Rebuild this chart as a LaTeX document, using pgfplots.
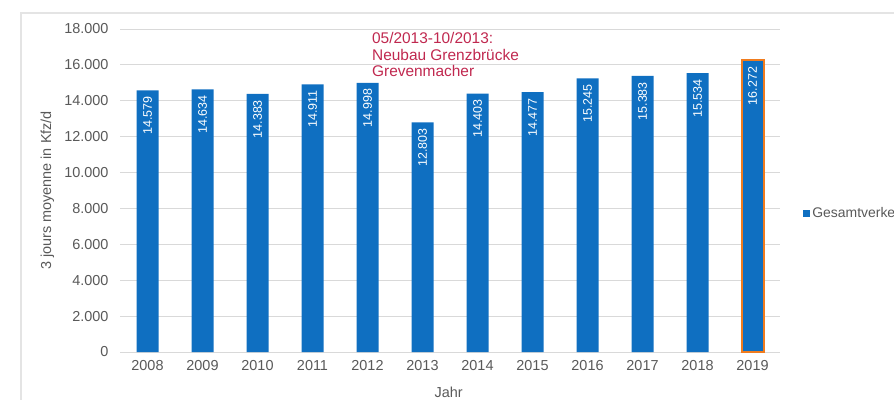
\documentclass[border=0pt]{standalone}
\usepackage{pgfplots}
\pgfplotsset{compat=1.18}
\usepackage{fontspec}
\setmainfont{Liberation Sans}
\definecolor{barblue}{HTML}{0F6FC1}
\definecolor{txtgrey}{HTML}{595959}
\definecolor{gridgrey}{HTML}{D9D9D9}
\definecolor{annot}{HTML}{C0284F}
\definecolor{outlineor}{HTML}{F07C1E}
\begin{document}
\begin{tikzpicture}
\path[use as bounding box] (0,0) rectangle (894bp,400bp);
\draw[gridgrey!70, line width=1.2bp] (21bp,-10bp) -- (21bp,387bp) -- (910bp,387bp);
\begin{axis}[
  at={(120bp,48bp)}, anchor=south west,
  scale only axis, width=660bp, height=323bp,
  xmin=-0.5, xmax=11.5, ymin=0, ymax=18000,
  xtick={0,...,11},
  xticklabels={2008,2009,2010,2011,2012,2013,2014,2015,2016,2017,2018,2019},
  ytick={0,2000,...,18000},
  /pgf/number format/.cd, 1000 sep={.}, assume math mode=true, /pgfplots/.cd,
  scaled y ticks=false,
  ymajorgrids, grid style={gridgrey, line width=0.8bp},
  axis line style={draw=none},
  major tick length=0pt,
  tick label style={font=\fontsize{14.5}{16}\selectfont, text=txtgrey},
  yticklabel style={xshift=-8bp},
  xticklabel style={yshift=-5bp},
  ylabel={3 jours moyenne in Kfz/d},
  ylabel style={at={(axis description cs:-0.11,0.5)}, anchor=center, rotate=0, font=\fontsize{14.5}{16}\selectfont, text=txtgrey},
  xlabel={Jahr},
  xlabel style={at={(axis description cs:0.498,-0.124)}, anchor=center, font=\fontsize{14.5}{16}\selectfont, text=txtgrey},
  legend style={at={(axis description cs:1.035,0.43)}, anchor=west, draw=none, fill=none,
    font=\fontsize{14}{16}\selectfont, text=txtgrey, inner sep=0pt},
  legend image code/.code={\fill[barblue] (0bp,-3.5bp) rectangle (7bp,3.5bp);},
  clip=false,
]
\addplot[ybar, bar width=22bp, bar shift=0pt, fill=barblue, draw=none,
  nodes near coords,
  every node near coord/.append style={rotate=90, anchor=east, text=white,
    font=\fontsize{12.5}{14}\selectfont, inner sep=0pt, xshift=-6bp},
  point meta=explicit symbolic]
  table[meta=lab] {
x y lab
0 14579 14.579
1 14634 14.634
2 14383 14.383
3 14911 14.911
4 14998 14.998
5 12803 12.803
6 14403 14.403
7 14477 14.477
8 15245 15.245
9 15383 15.383
10 15534 15.534
};
\addlegendentry{Gesamtverkehr}
\addplot[ybar, bar width=22bp, bar shift=0pt, fill=barblue, draw=outlineor, line width=2bp,
  forget plot,
  nodes near coords,
  every node near coord/.append style={rotate=90, anchor=east, text=white,
    font=\fontsize{12.5}{14}\selectfont, inner sep=0pt, xshift=-6bp},
  point meta=explicit symbolic]
  table[meta=lab] {
x y lab
11 16272 16.272
};
\node[anchor=north west, align=left, text=annot, font=\fontsize{15.5}{17}\selectfont, inner sep=0pt]
  at (axis cs:4.08,17850) {05/2013-10/2013:\\Neubau Grenzbrücke\\Grevenmacher};
\end{axis}
\end{tikzpicture}
\end{document}
